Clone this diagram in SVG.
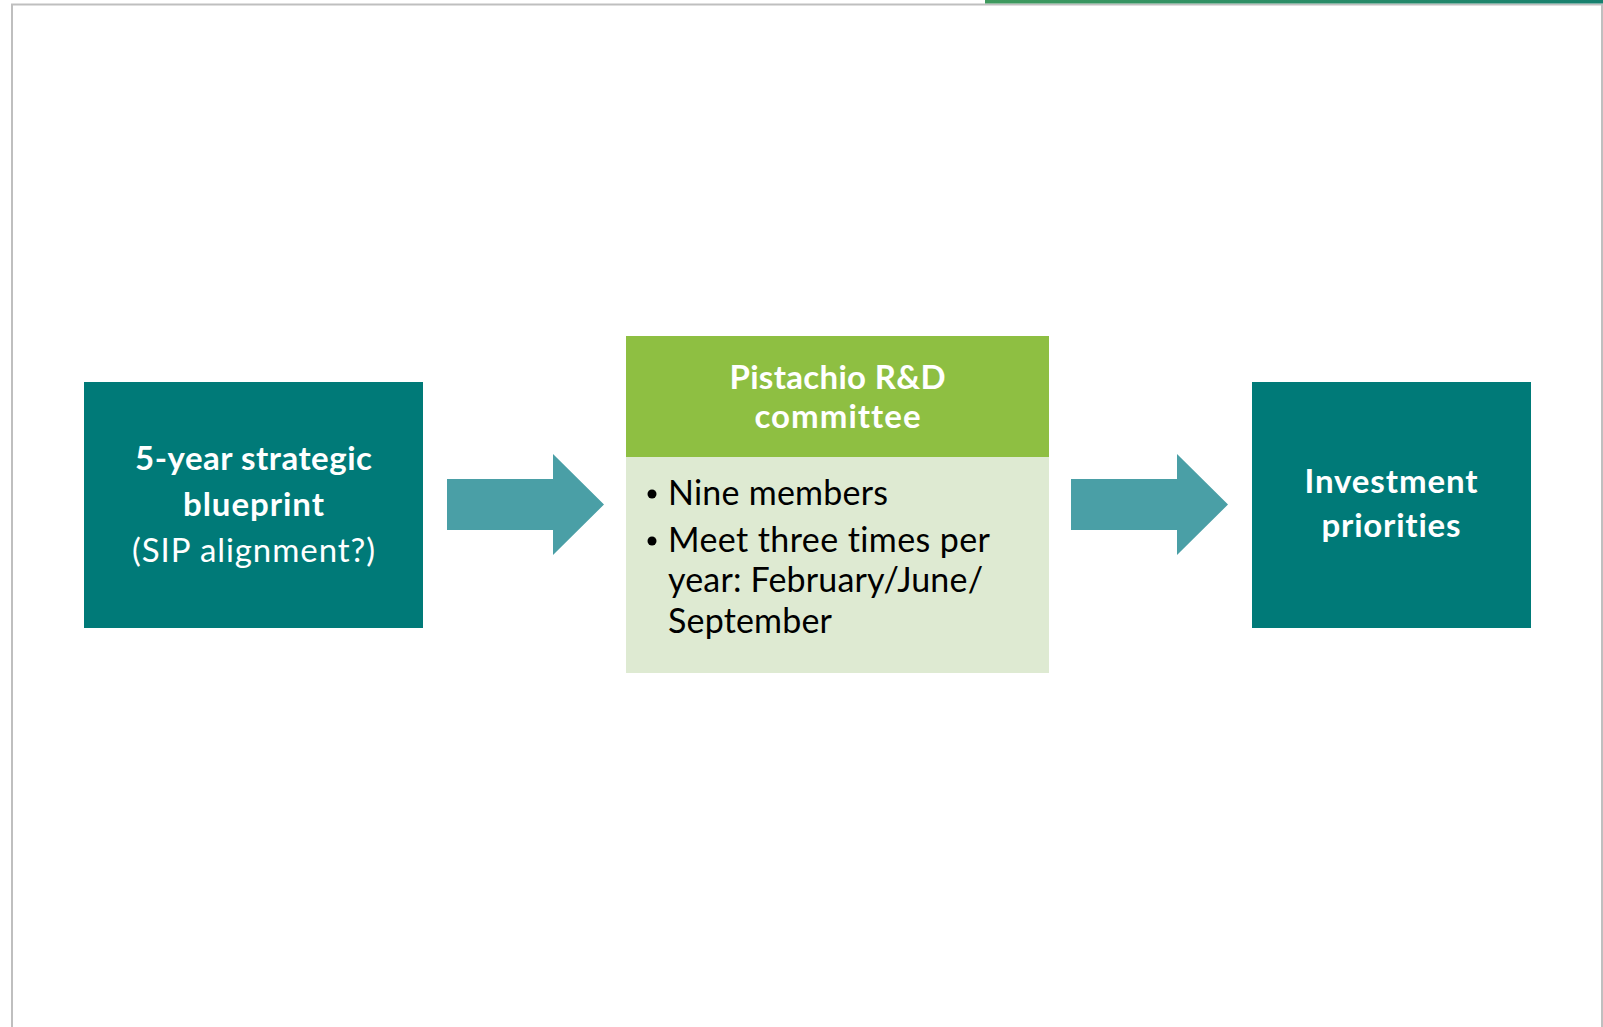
<svg xmlns="http://www.w3.org/2000/svg" width="1603" height="1027" viewBox="0 0 1603 1027">
<defs>
<linearGradient id="topbar" x1="0" y1="0" x2="1" y2="0">
<stop offset="0" stop-color="#3F9A5E"/>
<stop offset="1" stop-color="#17806F"/>
</linearGradient>
<style>
.teal{fill:#007A78}
.arrow{fill:#4A9FA6}
.hdr{fill:#8EBF42}
.body{fill:#DEEAD2}
.border{fill:#BFBFBF}
text{font-variant-ligatures:none;font-feature-settings:"liga" 0}
.wb{font-family:Lato,"Open Sans","Liberation Sans",sans-serif;font-weight:bold;fill:#FFFFFF;text-anchor:middle;font-size:33px}
.wr{font-family:Lato,"Open Sans","Liberation Sans",sans-serif;fill:#FFFFFF;text-anchor:middle;font-size:33px}
.bk{font-family:Lato,"Open Sans","Liberation Sans",sans-serif;fill:#000000;font-size:34px}
</style>
</defs>
<rect width="1603" height="1027" fill="#FFFFFF"/>
<g id="frame">
<rect class="border" x="11" y="3.5" width="1592" height="2"/>
<rect class="border" x="11" y="4" width="2" height="1023"/>
<rect class="border" x="1601" y="4" width="2" height="1023"/>
<rect x="985" y="0" width="618" height="3.5" fill="url(#topbar)"/>
</g>
<g id="node-blueprint">
<rect class="teal" x="84" y="382" width="339" height="246"/>
<text class="wb" x="253.5" y="470" textLength="237">5-year strategic</text>
<text class="wb" x="253.5" y="516" textLength="141">blueprint</text>
<text class="wr" x="253.5" y="562" textLength="243">(SIP alignment?)</text>
</g>
<g id="node-committee">
<rect class="hdr" x="626" y="336" width="423" height="121"/>
<rect class="body" x="626" y="457" width="423" height="216"/>
<text class="wb" x="837.5" y="389" textLength="216">Pistachio R&amp;D</text>
<text class="wb" x="837.5" y="428" textLength="166">committee</text>
<circle cx="652" cy="494" r="4.5" fill="#000"/>
<circle cx="652" cy="541" r="4.5" fill="#000"/>
<text class="bk" x="668" y="505" textLength="220">Nine members</text>
<text class="bk" x="668" y="552" textLength="322">Meet three times per</text>
<text class="bk" x="668" y="592" textLength="315">year: February/June/</text>
<text class="bk" x="668" y="633" textLength="164">September</text>
</g>
<g id="node-investment">
<rect class="teal" x="1252" y="382" width="279" height="246"/>
<text class="wb" x="1391" y="493" textLength="173">Investment</text>
<text class="wb" x="1391" y="537" textLength="139">priorities</text>
</g>
<g id="connectors">
<polygon class="arrow" points="447,479 553,479 553,454 604,504.5 553,555 553,530 447,530"/>
<polygon class="arrow" points="1071,479 1177,479 1177,454 1228,504.5 1177,555 1177,530 1071,530"/>
</g>
</svg>
